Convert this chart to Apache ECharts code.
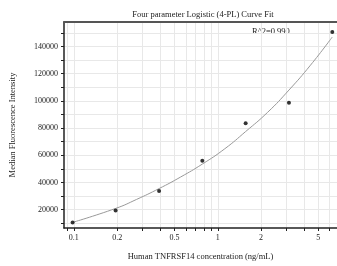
<!DOCTYPE html>
<html>
<head>
<meta charset="utf-8">
<script src="https://cdn.jsdelivr.net/npm/echarts@6/dist/echarts.min.js"></script>
<style>
  html, body { margin: 0; padding: 0; background: #fff; }
  #chart { width: 337px; height: 266px; }
</style>
</head>
<body>
<div id="chart"></div>
<script>
// standard points
var conc = [0.098, 0.195, 0.391, 0.781, 1.5625, 3.125, 6.25];
var mfi = [10600, 19400, 33800, 56000, 83500, 98700, 150600];
// fitted curve
var fitConc = [0.098, 0.195, 0.272, 0.391, 0.552, 0.781, 1.12, 1.5625, 2.22, 3.125, 4.41, 6.25];
var fitMfi = [10630, 20880, 27460, 35500, 44000, 53500, 64800, 77440, 91560, 107950, 126250, 146950];
// ticks
var xTicks = [0.09, 0.1, 0.2, 0.3, 0.4, 0.5, 0.6, 0.7, 0.8, 0.9, 1, 2, 3, 4, 5, 6];
var xLabels = [0.1, 0.2, 0.5, 1, 2, 5];
var yTicks = [10000, 20000, 30000, 40000, 50000, 60000, 70000, 80000, 90000, 100000, 110000, 120000, 130000, 140000, 150000];
var yLabels = [20000, 40000, 60000, 80000, 100000, 120000, 140000];
var r2Text = 'R^2=0.990';

var font = 'Liberation Serif';
var chart = echarts.init(document.getElementById('chart'));

var points = conc.map(function (c, i) { return [c, mfi[i]]; });
var curve = fitConc.map(function (c, i) { return [c, fitMfi[i]]; });

chart.setOption({
  animation: false,
  title: {
    text: 'Four parameter Logistic (4-PL) Curve Fit',
    left: 198, top: 5, textAlign: 'center',
    textStyle: { fontFamily: font, fontSize: 8.5, fontWeight: 'normal', color: '#222' }
  },
  graphic: [{
    type: 'text', left: 252, top: 27,
    style: { text: r2Text, fontFamily: font, fontSize: 8.5, fill: '#222' }
  }],
  grid: { left: 60, right: 0, top: 22, bottom: 37 },
  xAxis: [{
    type: 'log', min: 0.0854, max: 6.74,
    name: 'Human TNFRSF14 concentration (ng/mL)',
    nameLocation: 'middle', nameGap: 24,
    nameTextStyle: { fontFamily: font, fontSize: 8.5, color: '#222' },
    axisLine: { lineStyle: { color: '#222', width: 1.5 } },
    axisTick: { customValues: xTicks, length: 3, inside: false, lineStyle: { color: '#222' } },
    axisLabel: {
      customValues: xLabels, margin: 6,
      fontFamily: font, fontSize: 8, color: '#222',
      formatter: function (v) { return String(+(+v).toPrecision(3)); }
    },
    splitLine: { show: true, lineStyle: { color: '#e8e8e8', width: 1 } }
  }, {
    type: 'log', min: 0.0854, max: 6.74, position: 'top',
    axisLine: { lineStyle: { color: '#555', width: 2 } },
    axisTick: { show: false }, axisLabel: { show: false }, splitLine: { show: false }
  }],
  yAxis: {
    type: 'value', min: 6500, max: 158000,
    name: 'Median Fluorescence Intensity',
    nameLocation: 'middle', nameGap: 47,
    nameTextStyle: { fontFamily: font, fontSize: 8.5, color: '#222' },
    axisLine: { show: true, lineStyle: { color: '#222', width: 1.5 } },
    axisTick: { show: true, customValues: yTicks, length: 3, lineStyle: { color: '#222' } },
    axisLabel: {
      customValues: yLabels, margin: 6, fontFamily: font, fontSize: 8, color: '#222',
      formatter: function (v) { return String(Math.round(v)); }
    },
    splitLine: { show: true, lineStyle: { color: '#e8e8e8', width: 1 } }
  },
  series: [{
    type: 'line', data: curve, smooth: true, showSymbol: false,
    lineStyle: { color: '#999', width: 1 }, z: 2
  }, {
    type: 'scatter', data: points, symbolSize: 4,
    itemStyle: { color: '#000' }, z: 3
  }]
});
</script>
</body>
</html>
